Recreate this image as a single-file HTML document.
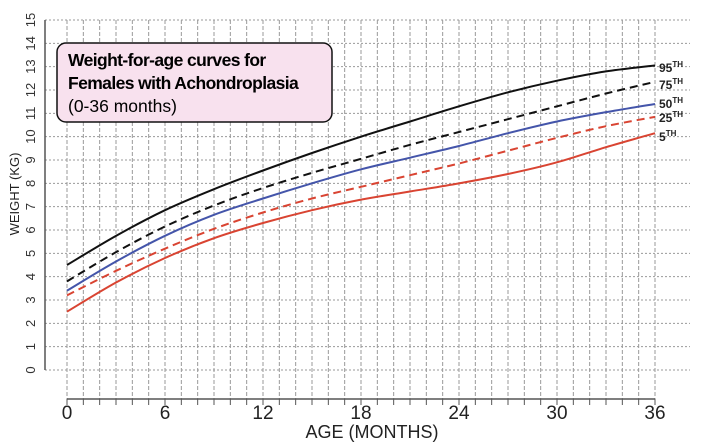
<!DOCTYPE html>
<html><head><meta charset="utf-8"><style>
html,body{margin:0;padding:0;background:#fff;width:715px;height:445px;overflow:hidden}
svg{display:block;font-family:"Liberation Sans",Arial,sans-serif}
</style></head><body>
<svg id="s" width="715" height="445" viewBox="0 0 715 445">
<g id="grid"></g>
<line x1="45" y1="20" x2="45" y2="370" stroke="#555" stroke-width="1.5"/>
<line x1="67" y1="399" x2="655" y2="399" stroke="#555" stroke-width="1.5"/>
<g id="ticks"></g>
<g id="curves" fill="none" stroke-width="2"></g>
<rect x="57" y="43" width="275" height="79" rx="9" ry="9" fill="#f8e1ee" stroke="#111" stroke-width="1.5"/>
<text x="68" y="66" font-size="17.5" font-weight="bold" fill="#000" letter-spacing="-0.6">Weight-for-age curves for</text>
<text x="68" y="89" font-size="17.5" font-weight="bold" fill="#000" letter-spacing="-0.6">Females with Achondroplasia</text>
<text x="68" y="112" font-size="17.5" fill="#000">(0-36 months)</text>
<g font-size="12" font-weight="bold" fill="#222">
<text x="659" y="72">95<tspan font-size="8" dy="-5">TH</tspan></text>
<text x="659" y="89">75<tspan font-size="8" dy="-5">TH</tspan></text>
<text x="659" y="108">50<tspan font-size="8" dy="-5">TH</tspan></text>
<text x="659" y="122">25<tspan font-size="8" dy="-5">TH</tspan></text>
<text x="659" y="141">5<tspan font-size="8" dy="-5">TH</tspan></text>
</g>
<text x="372" y="438" font-size="18" text-anchor="middle" fill="#222">AGE (MONTHS)</text>
<text transform="translate(19,194) rotate(-90)" font-size="13" text-anchor="middle" fill="#222">WEIGHT (KG)</text>
</svg>
<script>
var ns="http://www.w3.org/2000/svg";
function X(m){return 67+m*(588/36);} function Y(k){return 370-k*(350/15);}
function el(p,t,a){var e=document.createElementNS(ns,t);for(var k in a)e.setAttribute(k,a[k]);p.appendChild(e);return e;}
var g=document.getElementById('grid'),tk=document.getElementById('ticks');
for(var k=0;k<=15;k++){el(g,'line',{x1:45,x2:690,y1:Y(k),y2:Y(k),stroke:'#999','stroke-dasharray':'2,2','stroke-width':1});
 var t=el(tk,'text',{transform:'translate('+35+','+Y(k)+') rotate(-90)','font-size':13,'text-anchor':'middle',fill:'#333'});t.textContent=k;}
for(var m=0;m<=36;m++){el(g,'line',{x1:X(m),x2:X(m),y1:20,y2:399,stroke:'#999','stroke-dasharray':'4,2','stroke-width':1});
 el(tk,'line',{x1:X(m),x2:X(m),y1:399,y2:405,stroke:'#555','stroke-width':1});
 if(m%6==0){var t=el(tk,'text',{x:X(m),y:419,'font-size':19,'text-anchor':'middle',fill:'#222'});t.textContent=m;}}
var C=[
 [[4.5,5.75,6.85,7.75,8.55,9.3,10.0,10.65,11.3,11.9,12.4,12.8,13.05],'#111',''],
 [[3.8,5.05,6.15,7.05,7.8,8.45,9.05,9.65,10.2,10.75,11.3,11.85,12.35],'#111','8,5'],
 [[3.4,4.65,5.75,6.65,7.35,8.0,8.6,9.1,9.6,10.15,10.65,11.05,11.4],'#4455aa',''],
 [[3.2,4.25,5.2,6.05,6.75,7.35,7.85,8.35,8.85,9.4,9.95,10.45,10.85],'#d94432','8,5'],
 [[2.5,3.75,4.8,5.65,6.3,6.85,7.3,7.65,8.0,8.4,8.9,9.55,10.15],'#d94432','']];
var cg=document.getElementById('curves');
C.forEach(function(c){var v=c[0],P=v.map(function(k,i){return [X(i*3),Y(k)];});
 var d='M'+P[0][0]+','+P[0][1];
 for(var i=0;i<P.length-1;i++){var p0=P[i-1]||P[i],p1=P[i],p2=P[i+1],p3=P[i+2]||P[i+1];
  d+=' C'+(p1[0]+(p2[0]-p0[0])/6)+','+(p1[1]+(p2[1]-p0[1])/6)+' '+(p2[0]-(p3[0]-p1[0])/6)+','+(p2[1]-(p3[1]-p1[1])/6)+' '+p2[0]+','+p2[1];}
 var a={d:d,stroke:c[1]};if(c[2])a['stroke-dasharray']=c[2];el(cg,'path',a);});
</script>
</body></html>
